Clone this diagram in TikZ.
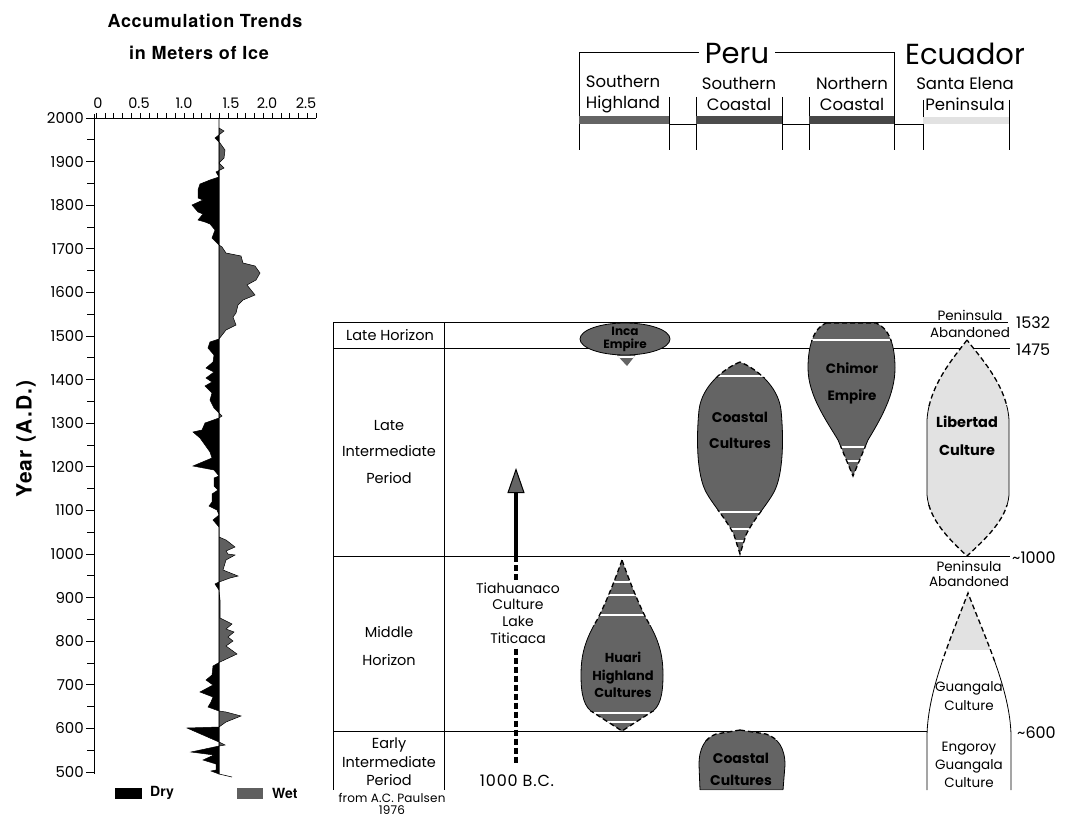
\documentclass[tikz,border=0pt]{standalone}
\usepackage{fontspec}
\setmainfont{Poppins}
\newfontfamily\hv{TeX Gyre Heros}
\usetikzlibrary{arrows.meta}
\definecolor{dk}{RGB}{100,100,100}
\definecolor{wetc}{RGB}{95,95,95}
\definecolor{lt}{RGB}{226,226,226}
\newcommand\myfs[2]{\fontsize{#1}{#2}\selectfont}
\tikzset{
  lab/.style={inner sep=0pt, align=center},
  ttl/.style={inner sep=0pt, font=\hv\bfseries\myfs{18}{20}\addfontfeature{LetterSpace=4}},
  shptxt/.style={inner sep=0pt, align=center, text=black, font=\bfseries\myfs{14}{26}},
  tline/.style={line width=0.6pt},
  band/.style={white, line width=2.2pt},
  dsh/.style={line width=1.3pt, dash pattern=on 5pt off 3pt},
  sol/.style={line width=0.8pt},
  thick dash/.style={line width=3.4pt, dash pattern=on 6pt off 3pt},
}
\begin{document}
\begin{tikzpicture}[x=1pt,y=-1pt]
\useasboundingbox (0,0) rectangle (1067,826);
% ================= left chart =================
\node[ttl] (t1) at (205,21) {Accumulation Trends};
\node[ttl] (t2) at (199,53) {in Meters of Ice};
\node[inner sep=0pt, rotate=90, font=\hv\bfseries\myfs{21}{24}\addfontfeature{LetterSpace=6}] (yl) at (26,439) {Year (A.D.)};
% ice curve
\def\icecurve{(219,128) -- (224,131) -- (215,138) -- (220,143) -- (225,150) -- (224,158) -- (219,163) -- (224,168) -- (216,172) -- (219,177)
 -- (210,180) -- (200,184) -- (198,190) -- (198,198) -- (203,200) -- (192,205) -- (198,212) -- (203,214) -- (198,220) -- (205,222) -- (210,224) -- (215,230) -- (212,238) -- (219,245)
 -- (222,247) -- (226,253) -- (241,256) -- (243,263) -- (255,266) -- (260,273) -- (256,280) -- (247,285) -- (255,295) -- (243,300) -- (238,305) -- (236,313) -- (233,317) -- (236,325) -- (226,330) -- (219,339)
 -- (210,342) -- (208,348) -- (214,355) -- (213,362) -- (206,368) -- (214,372) -- (206,378) -- (212,382) -- (205,386) -- (212,393) -- (210,400) -- (214,408) -- (219,413) -- (222,416) -- (219,418)
 -- (205,423) -- (202,430) -- (193,432) -- (200,438) -- (205,445) -- (210,452) -- (212,458) -- (193,466) -- (214,470) -- (219,476)
 -- (214,478) -- (214,486) -- (218,490) -- (212,494) -- (212,502) -- (209,506) -- (217,510) -- (219,515) -- (213,520) -- (219,527) -- (219,537)
 -- (226,540) -- (235,547) -- (226,551) -- (228,554) -- (235,555) -- (226,560) -- (223,570) -- (238,576) -- (230,578) -- (219,582)
 -- (215,584) -- (219,590) -- (220,600) -- (220,618) -- (232,624) -- (226,629) -- (234,632) -- (228,637) -- (233,641) -- (226,646) -- (237,654) -- (220,662)
 -- (213,666) -- (212,675) -- (206,680) -- (213,685) -- (200,692) -- (213,697) -- (211,702) -- (208,707) -- (219,711)
 -- (226,712) -- (241,716) -- (226,722) -- (219,727)
 -- (187,728) -- (219,742) -- (225,745) -- (219,746) -- (191,752) -- (214,755) -- (203,760) -- (216,764) -- (216,770) -- (211,771) -- (219,774) -- cycle}
\begin{scope}\clip (0,0) rectangle (219,826); \fill[black] \icecurve; \end{scope}
\begin{scope}\clip (219,0) rectangle (400,826); \fill[wetc] \icecurve; \end{scope}
\draw[line width=0.5pt] \icecurve;
\draw[line width=0.6pt] (219,118) -- (219,774) -- (232,777);
% axes
\draw[line width=0.9pt] (94,114) -- (94,774);
\draw[line width=0.9pt] (94,118) -- (316,118);
\foreach \i in {0,...,25} \draw[line width=0.6pt] ({96+8.8*\i},118) -- ({96+8.8*\i},113);
\foreach \v/\x in {0/98,0.5/139,1.0/184,1.5/231,2.0/267,2.5/306}
  \node[lab, font=\myfs{14.5}{15}] at (\x,103) {\v};
\foreach \yr in {500,600,...,2000}{
  \draw[line width=0.8pt] (86,{118+(2000-\yr)*0.436}) -- (94,{118+(2000-\yr)*0.436});
  \node[lab, anchor=east, font=\myfs{15}{16}] at (84,{118+(2000-\yr)*0.436}) {\yr};}
\foreach \yr in {550,650,...,1950}
  \draw[line width=0.8pt] (87,{118+(2000-\yr)*0.436}) -- (94,{118+(2000-\yr)*0.436});
% legend
\fill[black] (115,788) rectangle (142,799);
\node[inner sep=0pt, anchor=west, font=\hv\bfseries\myfs{14}{16}] (dry) at (150,793) {Dry};
\fill[wetc] (237,788) rectangle (263,799);
\node[inner sep=0pt, anchor=west, font=\hv\bfseries\myfs{14}{16}] (wet) at (272,793) {Wet};
% ================= header =================
\node[lab, font=\myfs{29}{30}] (peru) at (737,54) {Peru};
\node[lab, font=\myfs{29}{30}] (ecu) at (965,54) {Ecuador};
\draw[tline] (579,150) -- (579,52) -- ([xshift=-6pt]peru.west |- 0,52);
\draw[tline] ([xshift=6pt]peru.east |- 0,52) -- (894,52) -- (894,150);
\foreach \x in {669,696,782,809} \draw[tline] (\x,97) -- (\x,150);
\foreach \x in {923,1009} \draw[tline] (\x,100) -- (\x,150);
\fill[dk] (579,116) rectangle (669,124);
\fill[black!70] (696,116) rectangle (782,124);
\fill[black!72] (809,116) rectangle (894,124);
\fill[lt] (923,117) rectangle (1009,124);
\draw[tline] (669,124) -- (696,124) (782,124) -- (809,124) (894,124) -- (923,124);
\node[lab, font=\myfs{16.5}{21}] (sh) at (623,94) {Southern\\Highland};
\node[lab, font=\myfs{16.5}{21}] (sc) at (739,94) {Southern\\Coastal};
\node[lab, font=\myfs{16.5}{21}] (nc) at (852,94) {Northern\\Coastal};
\node[lab, font=\myfs{16.5}{21}] (se) at (965,94) {Santa Elena\\Peninsula};
% ================= table =================
\draw[tline] (333,322) -- (333,790);
\draw[tline] (444,322) -- (444,790);
\draw[tline] (333,322) -- (1008,322);
\draw[tline] (333,348) -- (1010,348);
\draw[tline] (333,556) -- (1010,556);
\draw[tline] (333,731) -- (927,731);
\node[lab, font=\myfs{14.5}{26}] (lh) at (390,335) {Late Horizon};
\node[lab, font=\myfs{14.5}{26.5}] (lip) at (389,452) {Late\\Intermediate\\Period};
\node[lab, font=\myfs{14.5}{28}] (mh) at (389,646) {Middle\\Horizon};
\node[lab, font=\myfs{14.5}{18.5}] (eip) at (389,762) {Early\\Intermediate\\Period};
\node[lab, font=\myfs{12}{12}\addfontfeature{LetterSpace=1.5}] (src) at (392,804) {from A.C. Paulsen\\1976};
\node[lab, font=\myfs{16}{16}, anchor=west] (d1532) at (1016,323) {1532};
\node[lab, font=\myfs{16}{16}, anchor=west] (d1475) at (1016,350) {1475};
\node[lab, font=\myfs{16}{16}, anchor=west] (d1000) at (1012,558) {\textasciitilde 1000};
\node[lab, font=\myfs{16}{16}, anchor=west] (d600) at (1017,733) {\textasciitilde 600};
% Tiahuanaco arrow
\node[lab, font=\myfs{14}{16.7}] (tia) at (518,613) {Tiahuanaco\\Culture\\Lake\\Titicaca};
\node[lab, font=\myfs{16}{16}\addfontfeature{LetterSpace=5}] (bc) at (517,781) {1000 B.C.};
\coordinate (atip) at (516,468);
\coordinate (abase) at (516,556);
\draw[line width=3.4pt, -{Triangle[length=25pt,width=17pt,fill=dk,line width=1pt]}] (abase) -- (atip);
\draw[thick dash] (abase) -- (tia.north -| abase);
\draw[thick dash] ([yshift=-5pt]tia.south -| abase) -- (516,765);
% ================= shapes =================
% Inca Empire
\fill[dk] (625,339) ellipse [x radius=45, y radius=16];
\def\incatail{(614,352) -- (627,366) -- (638,352) -- cycle}
\fill[dk] \incatail;
\begin{scope}\clip \incatail; \draw[band] (600,357) -- (650,357); \end{scope}
\draw[sol] (625,339) ellipse [x radius=45, y radius=16];
\node[shptxt, font=\bfseries\myfs{12}{13}] (inca) at (625,339) {Inca\\Empire};
% Coastal cultures (upper)
\def\coastA{(740,362) .. controls (725,368) and (702,385) .. (699,410) .. controls (696,440) and (697,475) .. (706,492) .. controls (713,505) and (727,520) .. (734,535) -- (740,554) -- (746,535) .. controls (753,520) and (767,505) .. (774,492) .. controls (783,475) and (784,440) .. (781,410) .. controls (778,385) and (755,368) .. (740,362) -- cycle}
\fill[dk] \coastA;
\begin{scope}\clip \coastA; \foreach \yy in {376,512,529,541} \draw[band] (680,\yy) -- (800,\yy); \end{scope}
\begin{scope}\clip (0,0) rectangle (1067,377); \draw[dsh] \coastA; \end{scope}
\begin{scope}\clip (0,377) rectangle (1067,510); \draw[sol] \coastA; \end{scope}
\begin{scope}\clip (0,510) rectangle (1067,826); \draw[dsh] \coastA; \end{scope}
\node[shptxt] (coastA) at (740,430) {Coastal\\Cultures};
% Chimor Empire
\def\chimor{(826,323) -- (876,323) .. controls (889,328) and (895,345) .. (895,368) .. controls (895,395) and (880,420) .. (868,440) -- (853,476) -- (838,440) .. controls (826,420) and (808,395) .. (808,368) .. controls (808,345) and (814,328) .. (826,323) -- cycle}
\fill[dk] \chimor;
\begin{scope}\clip \chimor; \foreach \yy in {340,447,461} \draw[band] (800,\yy) -- (900,\yy); \end{scope}
\begin{scope}\clip (0,0) rectangle (1067,340); \draw[dsh] \chimor; \end{scope}
\begin{scope}\clip (0,340) rectangle (1067,446); \draw[sol] \chimor; \end{scope}
\begin{scope}\clip (0,446) rectangle (1067,826); \draw[dsh] \chimor; \end{scope}
\node[shptxt, font=\bfseries\myfs{13.5}{27}] (chim) at (852,383) {Chimor\\Empire};
% Libertad
\def\libert{(967,340) .. controls (955,356) and (929,385) .. (927,420) -- (927,495) .. controls (929,520) and (950,540) .. (967,556) .. controls (984,540) and (1007,520) .. (1009,495) -- (1009,420) .. controls (1007,385) and (979,356) .. (967,340) -- cycle}
\fill[lt] \libert;
\begin{scope}\clip (0,0) rectangle (1067,405); \draw[dsh] \libert; \end{scope}
\begin{scope}\clip (0,405) rectangle (1067,505); \draw[sol] \libert; \end{scope}
\begin{scope}\clip (0,505) rectangle (1067,826); \draw[dsh] \libert; \end{scope}
\node[shptxt, font=\bfseries\myfs{14.5}{28}] (lib) at (967,436) {Libertad\\Culture};
\node[lab, font=\myfs{13.5}{17}] (pa1) at (970,324) {Peninsula\\Abandoned};
% Huari
\def\huari{(622,560) .. controls (615,580) and (605,605) .. (597,620) .. controls (585,640) and (581,655) .. (581,675) .. controls (581,695) and (584,708) .. (594,713) -- (622,731) -- (650,713) .. controls (660,708) and (663,695) .. (663,675) .. controls (663,655) and (659,640) .. (647,620) .. controls (639,605) and (629,580) .. (622,560) -- cycle}
\fill[dk] \huari;
\begin{scope}\clip \huari; \foreach \yy in {582,595,615,713,722} \draw[band] (570,\yy) -- (680,\yy); \end{scope}
\begin{scope}\clip (0,0) rectangle (1067,625); \draw[dsh] \huari; \end{scope}
\begin{scope}\clip (0,625) rectangle (1067,711); \draw[sol] \huari; \end{scope}
\begin{scope}\clip (0,711) rectangle (1067,826); \draw[dsh] \huari; \end{scope}
\node[shptxt, font=\bfseries\myfs{13}{17.5}] (huari) at (623,675) {Huari\\Highland\\Cultures};
% Coastal cultures (lower)
\def\coastB{(740,730) -- (766,734) .. controls (778,738) and (785,748) .. (785,765) -- (783,790) -- (700,790) -- (699,765) .. controls (699,748) and (705,738) .. (716,734) -- cycle}
\fill[dk] \coastB;
\begin{scope}\clip (0,0) rectangle (1067,740); \draw[dsh] \coastB; \end{scope}
\begin{scope}\clip (0,740) rectangle (1067,789.5); \draw[sol] \coastB; \end{scope}
\node[shptxt, font=\bfseries\myfs{14}{22}] (coastB) at (741,769) {Coastal\\Cultures};
% Guangala
\def\guang{(927,790) -- (927,735) .. controls (928,690) and (950,640) .. (968,593) .. controls (986,640) and (1010,690) .. (1011,735) -- (1011,790)}
\begin{scope}\clip \guang -- cycle; \fill[lt] (900,580) rectangle (1030,650); \end{scope}
\begin{scope}\clip (0,0) rectangle (1067,660); \draw[dsh] \guang; \end{scope}
\begin{scope}\clip (0,660) rectangle (1067,826); \draw[sol] \guang; \end{scope}
\node[lab, font=\myfs{13.5}{15}] (pa2) at (969,574) {Peninsula\\Abandoned};
\node[lab, font=\myfs{13.5}{19}] (gc) at (969,696) {Guangala\\Culture};
\node[lab, font=\myfs{13.5}{18}] (egc) at (969,765) {Engoroy\\Guangala\\Culture};
\end{tikzpicture}
\end{document}
